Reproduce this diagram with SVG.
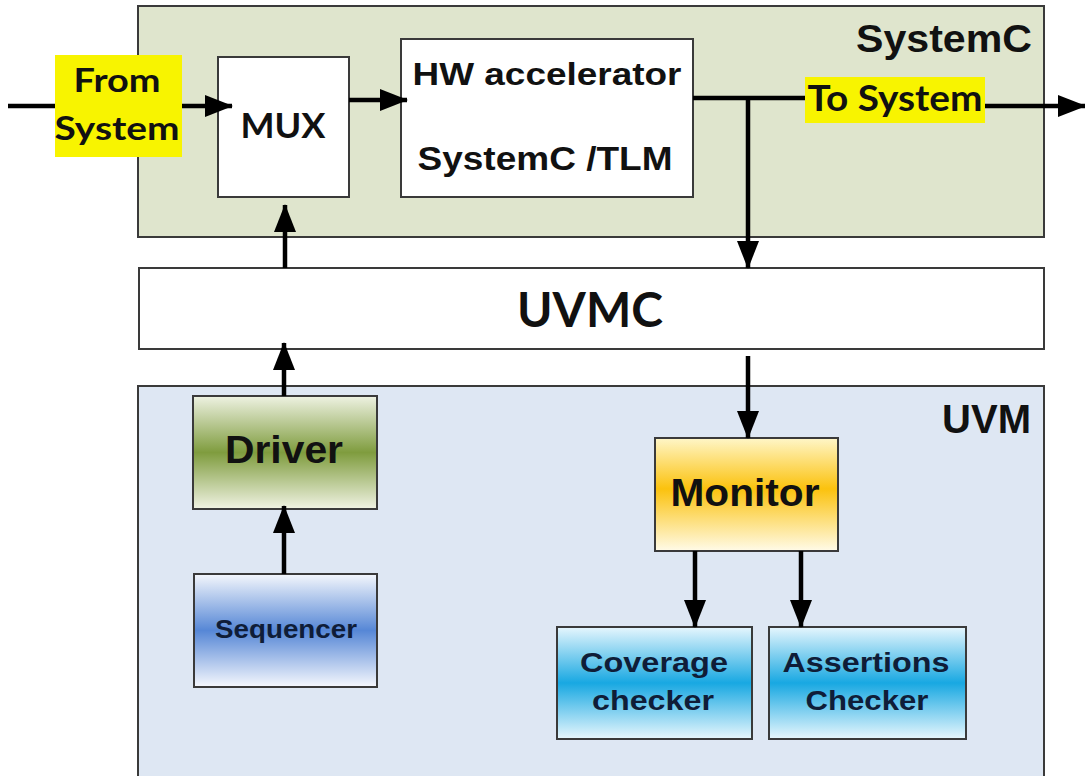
<svg xmlns="http://www.w3.org/2000/svg" width="1085" height="776" viewBox="0 0 1085 776">
<defs>
<style>
.box{stroke:#3a3a3a;stroke-width:2}
.c{stroke:#000;stroke-width:4.5;fill:none}
.ca{stroke:#000;stroke-width:4.5;fill:none;marker-end:url(#ah)}
.t{font-family:"Liberation Sans",Arial,sans-serif;font-weight:bold;fill:#111;text-anchor:middle}
.k{font-family:Lato,"Open Sans",sans-serif;font-weight:bold;fill:#111;text-anchor:middle}
.e{text-anchor:end}
.n{fill:#0f1d38}
</style>
<marker id="ah" viewBox="0 0 28 22" refX="27" refY="11" markerWidth="28" markerHeight="22" markerUnits="userSpaceOnUse" orient="auto">
<path d="M0,0 L28,11 L0,22 z" fill="#000"/>
</marker>
<linearGradient id="gDrv" x1="0" y1="0" x2="0" y2="1">
<stop offset="0" stop-color="#eef2e2"/><stop offset="0.5" stop-color="#7f9c3e"/><stop offset="1" stop-color="#f0f3e3"/>
</linearGradient>
<linearGradient id="gSeq" x1="0" y1="0" x2="0" y2="1">
<stop offset="0" stop-color="#f4f7fc"/><stop offset="0.5" stop-color="#5687d6"/><stop offset="1" stop-color="#f6f8fd"/>
</linearGradient>
<linearGradient id="gMon" x1="0" y1="0" x2="0" y2="1">
<stop offset="0" stop-color="#fff6c8"/><stop offset="0.45" stop-color="#fbc20e"/><stop offset="1" stop-color="#fffbe8"/>
</linearGradient>
<linearGradient id="gChk" x1="0" y1="0" x2="0" y2="1">
<stop offset="0" stop-color="#e6f6fd"/><stop offset="0.5" stop-color="#18a8e2"/><stop offset="1" stop-color="#e8f7fd"/>
</linearGradient>
</defs>
<rect width="1085" height="776" fill="#fff"/>

<g id="systemc">
<rect class="box" x="138" y="6" width="906" height="231" fill="#dfe5cd"/>
<text class="t e" x="1032" y="52" font-size="38" textLength="176" lengthAdjust="spacingAndGlyphs">SystemC</text>
</g>
<g id="uvmc">
<rect class="box" x="139" y="268" width="905" height="81" fill="#fff"/>
<text class="k" x="590" y="327" font-size="48" textLength="146" lengthAdjust="spacingAndGlyphs">UVMC</text>
</g>
<g id="uvm">
<rect class="box" x="138" y="386" width="906" height="420" fill="#dee7f3"/>
<text class="t e" x="1031" y="433" font-size="40" textLength="89" lengthAdjust="spacingAndGlyphs">UVM</text>
</g>

<g id="from-system">
<rect x="55" y="55" width="127" height="102" fill="#f8f400"/>
<text class="k" x="117" y="92" font-size="33" textLength="87" lengthAdjust="spacingAndGlyphs">From</text>
<text class="k" x="117" y="140" font-size="33" textLength="125" lengthAdjust="spacingAndGlyphs">System</text>
</g>
<g id="mux">
<rect class="box" x="218" y="57" width="131" height="140" fill="#fff"/>
<text class="k" x="283" y="138" font-size="34" textLength="85" lengthAdjust="spacingAndGlyphs">MUX</text>
</g>
<g id="hw">
<rect class="box" x="401" y="39" width="292" height="158" fill="#fff"/>
<text class="t" x="547" y="85" font-size="31" textLength="269" lengthAdjust="spacingAndGlyphs">HW accelerator</text>
<text class="t" x="545" y="170" font-size="33" textLength="255" lengthAdjust="spacingAndGlyphs">SystemC /TLM</text>
</g>
<g id="to-system">
<rect x="805" y="77" width="180" height="46" fill="#f8f400"/>
<text class="k" x="895" y="111" font-size="37" textLength="175" lengthAdjust="spacingAndGlyphs">To System</text>
</g>

<g id="driver">
<rect class="box" x="193" y="396" width="184" height="113" fill="url(#gDrv)"/>
<text class="t" x="284" y="463" font-size="39" textLength="118" lengthAdjust="spacingAndGlyphs">Driver</text>
</g>
<g id="sequencer">
<rect class="box" x="194" y="574" width="183" height="113" fill="url(#gSeq)"/>
<text class="t n" x="286" y="638" font-size="26" textLength="142" lengthAdjust="spacingAndGlyphs">Sequencer</text>
</g>
<g id="monitor">
<rect class="box" x="655" y="438" width="183" height="113" fill="url(#gMon)"/>
<text class="t" x="745" y="506" font-size="38" textLength="149" lengthAdjust="spacingAndGlyphs">Monitor</text>
</g>
<g id="coverage">
<rect class="box" x="557" y="627" width="195" height="112" fill="url(#gChk)"/>
<text class="t n" x="654" y="672" font-size="28" textLength="148" lengthAdjust="spacingAndGlyphs">Coverage</text>
<text class="t n" x="653" y="710" font-size="28" textLength="122" lengthAdjust="spacingAndGlyphs">checker</text>
</g>
<g id="assertions">
<rect class="box" x="769" y="627" width="197" height="112" fill="url(#gChk)"/>
<text class="t n" x="866" y="672" font-size="28" textLength="167" lengthAdjust="spacingAndGlyphs">Assertions</text>
<text class="t n" x="867" y="710" font-size="28" textLength="123" lengthAdjust="spacingAndGlyphs">Checker</text>
</g>

<g id="connectors">
<line class="c" x1="8" y1="106" x2="55" y2="106"/>
<line class="ca" x1="182" y1="106" x2="232" y2="106"/>
<line class="ca" x1="349" y1="100" x2="407" y2="100"/>
<line class="c" x1="693" y1="98" x2="805" y2="98"/>
<line class="ca" x1="985" y1="106" x2="1085" y2="106"/>
<line class="ca" x1="748" y1="98" x2="748" y2="268"/>
<line class="ca" x1="285" y1="268" x2="285" y2="205"/>
<line class="ca" x1="284" y1="396" x2="284" y2="343"/>
<line class="ca" x1="748" y1="356" x2="748" y2="438"/>
<line class="ca" x1="284" y1="574" x2="284" y2="506"/>
<line class="ca" x1="695" y1="551" x2="695" y2="627"/>
<line class="ca" x1="801" y1="551" x2="801" y2="627"/>
</g>
</svg>
